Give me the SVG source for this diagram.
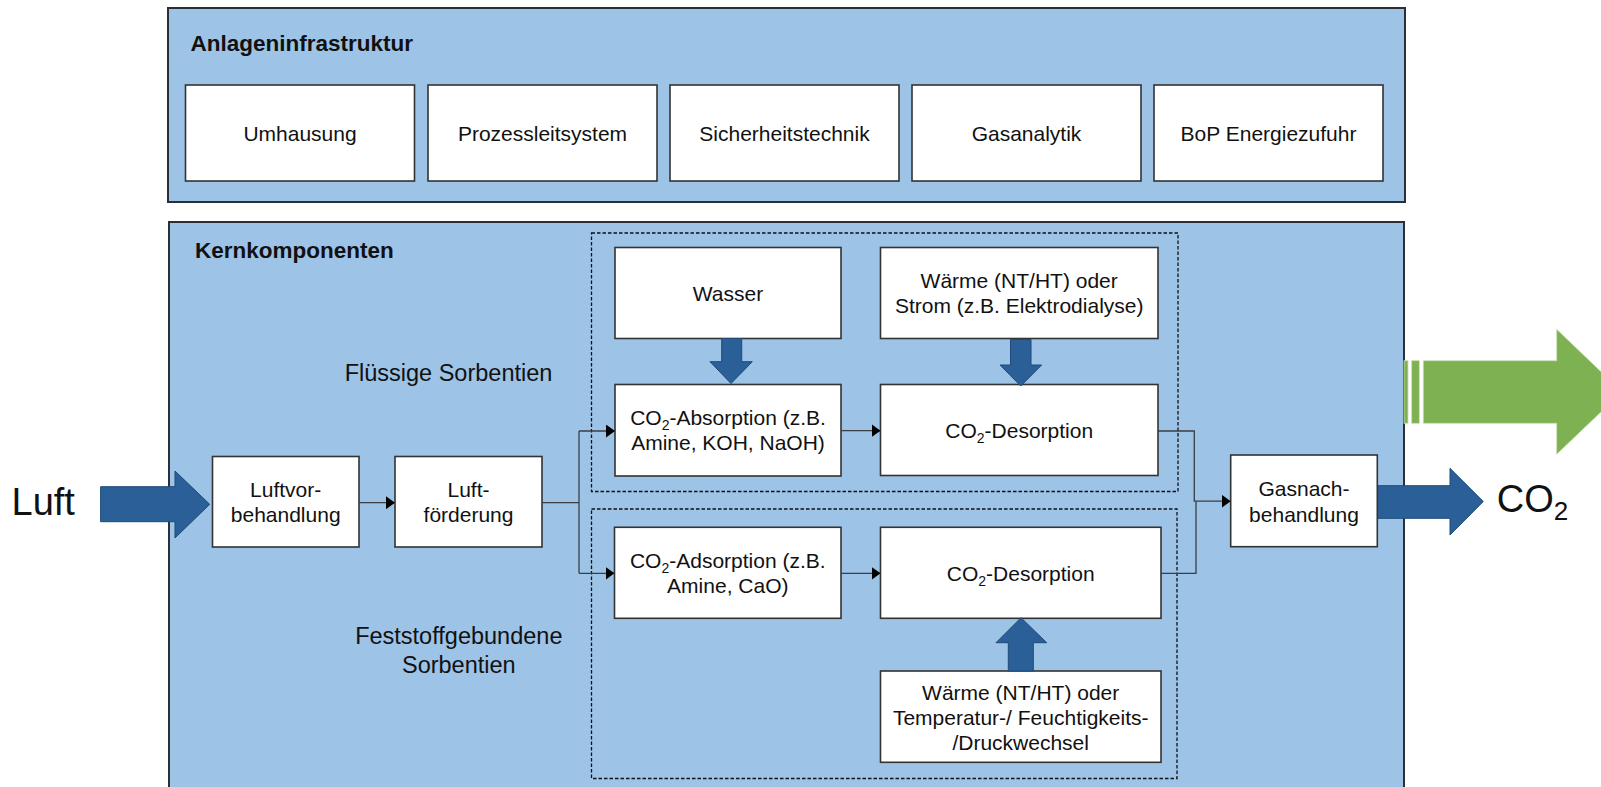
<svg xmlns="http://www.w3.org/2000/svg" width="1601" height="787" viewBox="0 0 1601 787">
  <defs>
    <style>
      .panel { fill: #9DC3E6; stroke: #2B2F36; stroke-width: 2; }
      .box { fill: #FFFFFF; stroke: #333333; stroke-width: 1.6; }
      .group { fill: none; stroke: #111111; stroke-width: 1.3; stroke-dasharray: 3.5 2; }
      .wire { fill: none; stroke: #3A3F46; stroke-width: 1.3; }
      .blue { fill: #2B5F98; stroke: #1F4A78; stroke-width: 1; }
      .green { fill: #7EB152; stroke: #C9DEB6; stroke-width: 0.8; }
      text { font-family: "Liberation Sans", Arial, sans-serif; fill: #111111; }
      .title { font-size: 22.5px; font-weight: bold; }
      .t { font-size: 21px; text-anchor: middle; }
      .lbl { font-size: 23.5px; text-anchor: middle; }
      .big { font-size: 38px; }
      .sub { font-size: 14px; }
    </style>
    <marker id="tip" viewBox="0 0 9 13" refX="9" refY="6.5" markerWidth="9" markerHeight="13" markerUnits="userSpaceOnUse" orient="auto">
      <path d="M0,0 L9,6.5 L0,13 z" fill="#000000"/>
    </marker>
  </defs>

  <!-- plant infrastructure panel -->
  <g id="anlageninfrastruktur">
    <rect class="panel" x="168" y="8" width="1237" height="194"/>
    <text class="title" x="190.5" y="50.5">Anlageninfrastruktur</text>
  </g>
  <g id="umhausung">
    <rect class="box" x="185.5" y="85" width="229" height="96"/>
    <text class="t" x="300" y="140.5">Umhausung</text>
  </g>
  <g id="prozessleitsystem">
    <rect class="box" x="428" y="85" width="229" height="96"/>
    <text class="t" x="542.5" y="140.5">Prozessleitsystem</text>
  </g>
  <g id="sicherheitstechnik">
    <rect class="box" x="670" y="85" width="229" height="96"/>
    <text class="t" x="784.5" y="140.5">Sicherheitstechnik</text>
  </g>
  <g id="gasanalytik">
    <rect class="box" x="912" y="85" width="229" height="96"/>
    <text class="t" x="1026.5" y="140.5">Gasanalytik</text>
  </g>
  <g id="bop-energiezufuhr">
    <rect class="box" x="1154" y="85" width="229" height="96"/>
    <text class="t" x="1268.5" y="140.5">BoP Energiezufuhr</text>
  </g>

  <!-- core components panel (runs off the bottom edge) -->
  <g id="kernkomponenten">
    <rect class="panel" x="169" y="222" width="1235" height="620"/>
    <text class="title" x="195" y="258">Kernkomponenten</text>
  </g>

  <!-- sorbent groups -->
  <g id="fluessige-sorbentien">
    <rect class="group" x="591.5" y="233" width="586.5" height="258.5"/>
    <text class="lbl" x="448.5" y="380.5">Flüssige Sorbentien</text>
  </g>
  <g id="feststoff-sorbentien">
    <rect class="group" x="591.5" y="509" width="585.5" height="269.5"/>
    <text class="lbl" x="458.8" y="644">Feststoffgebundene</text>
    <text class="lbl" x="458.8" y="672.5">Sorbentien</text>
  </g>

  <!-- inlet and outlet -->
  <g id="luft">
    <polygon class="blue" points="100.6,486.7 175,486.7 175,471 209.7,504.3 175,538 175,521.7 100.6,521.7"/>
    <text class="big" x="11.5" y="515">Luft</text>
  </g>
  <g id="co2-produkt">
    <polygon class="blue" points="1377.3,485.7 1450,485.7 1450,468.3 1483.3,501.5 1450,535 1450,518.3 1377.3,518.3"/>
    <text class="big" x="1496.7" y="512">CO<tspan font-size="26" dy="8">2</tspan></text>
  </g>
  <g id="nutzung">
    <rect class="green" x="1404" y="360.7" width="4" height="62.6"/>
    <rect class="green" x="1411.7" y="360.7" width="7.6" height="62.6"/>
    <polygon class="green" points="1423.3,360.7 1556.7,360.7 1556.7,329.3 1622,391.8 1556.7,454.3 1556.7,423.3 1423.3,423.3"/>
  </g>

  <!-- process chain -->
  <g id="luftvorbehandlung">
    <rect class="box" x="212.5" y="456.5" width="146.5" height="90.5"/>
    <text class="t" x="285.7" y="497">Luftvor-</text>
    <text class="t" x="285.7" y="522">behandlung</text>
  </g>
  <g id="luftfoerderung">
    <rect class="box" x="395" y="456.5" width="147" height="90.5"/>
    <text class="t" x="468.5" y="497">Luft-</text>
    <text class="t" x="468.5" y="522">förderung</text>
  </g>
  <g id="wasser">
    <rect class="box" x="615" y="247.5" width="226" height="91"/>
    <text class="t" x="728" y="300.5">Wasser</text>
  </g>
  <g id="waerme-strom">
    <rect class="box" x="880.5" y="247.5" width="277.5" height="91"/>
    <text class="t" x="1019.2" y="287.5">Wärme (NT/HT) oder</text>
    <text class="t" x="1019.2" y="312.5">Strom (z.B. Elektrodialyse)</text>
  </g>
  <g id="absorption">
    <rect class="box" x="615" y="384.5" width="226" height="91.5"/>
    <text class="t" x="728" y="425">CO<tspan class="sub" dy="5">2</tspan><tspan dy="-5">-Absorption (z.B.</tspan></text>
    <text class="t" x="728" y="450">Amine, KOH, NaOH)</text>
  </g>
  <g id="desorption-fluessig">
    <rect class="box" x="880.5" y="384.5" width="277.5" height="91"/>
    <text class="t" x="1019.2" y="437.5">CO<tspan class="sub" dy="5">2</tspan><tspan dy="-5">-Desorption</tspan></text>
  </g>
  <g id="adsorption">
    <rect class="box" x="614.5" y="527.3" width="226.5" height="91"/>
    <text class="t" x="727.8" y="567.5">CO<tspan class="sub" dy="5">2</tspan><tspan dy="-5">-Adsorption (z.B.</tspan></text>
    <text class="t" x="727.8" y="592.5">Amine, CaO)</text>
  </g>
  <g id="desorption-feststoff">
    <rect class="box" x="880.5" y="527.3" width="280.5" height="91"/>
    <text class="t" x="1020.7" y="580.5">CO<tspan class="sub" dy="5">2</tspan><tspan dy="-5">-Desorption</tspan></text>
  </g>
  <g id="waerme-wechsel">
    <rect class="box" x="880.5" y="671" width="280.5" height="91.3"/>
    <text class="t" x="1020.7" y="699.5">Wärme (NT/HT) oder</text>
    <text class="t" x="1020.7" y="724.5">Temperatur-/ Feuchtigkeits-</text>
    <text class="t" x="1020.7" y="749.5">/Druckwechsel</text>
  </g>
  <g id="gasnachbehandlung">
    <rect class="box" x="1230.7" y="455" width="146.6" height="91.7"/>
    <text class="t" x="1304" y="496">Gasnach-</text>
    <text class="t" x="1304" y="521.5">behandlung</text>
  </g>

  <!-- energy and media supply arrows -->
  <g id="zufuhr">
    <polygon class="blue" points="721.7,338.5 741.7,338.5 741.7,361.7 752.3,361.7 731,383.5 710,361.7 721.7,361.7"/>
    <polygon class="blue" points="1010.5,339.5 1031,339.5 1031,365 1041.6,365 1020.8,386 1000,365 1010.5,365"/>
    <polygon class="blue" points="1008.3,671 1033.3,671 1033.3,642.7 1046.7,642.7 1021,617.7 996,642.7 1008.3,642.7"/>
  </g>

  <!-- connectors -->
  <g id="connectors">
    <path class="wire" d="M359,502.7 H395" marker-end="url(#tip)"/>
    <path class="wire" d="M542,502.7 H579"/>
    <path class="wire" d="M579,431 V573.3"/>
    <path class="wire" d="M579,431 H615" marker-end="url(#tip)"/>
    <path class="wire" d="M579,573.3 H614.5" marker-end="url(#tip)"/>
    <path class="wire" d="M841,430.7 H880.5" marker-end="url(#tip)"/>
    <path class="wire" d="M841,573.3 H880.5" marker-end="url(#tip)"/>
    <path class="wire" d="M1158,431 H1194.3 V501.2 H1230.7" marker-end="url(#tip)"/>
    <path class="wire" d="M1161,573.3 H1196 V501.2"/>
  </g>
</svg>
